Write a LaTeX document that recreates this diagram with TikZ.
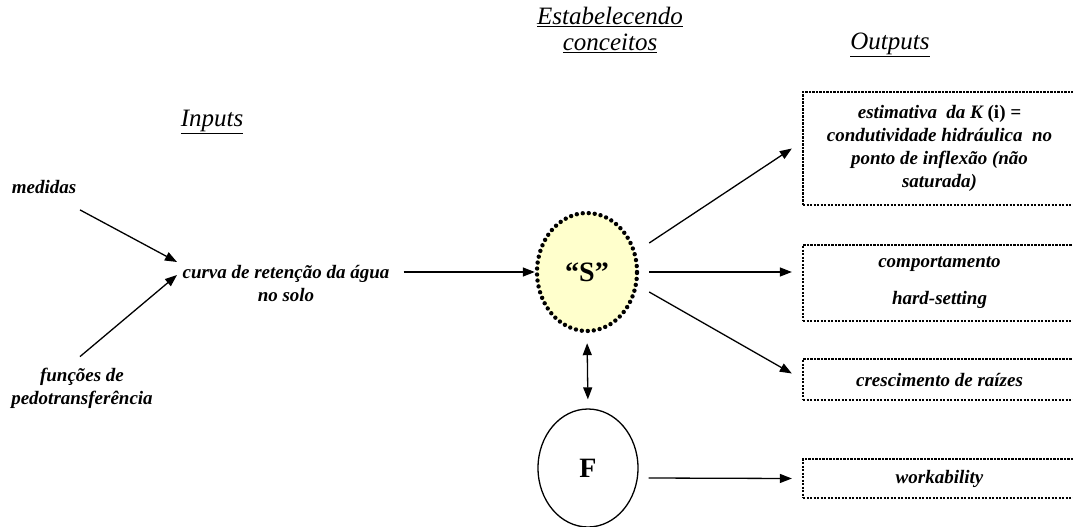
\documentclass[tikz,border=0pt]{standalone}
\usepackage{fontspec}
\setmainfont{Liberation Serif}
\usetikzlibrary{arrows.meta,shapes.geometric}
\definecolor{sfill}{HTML}{FFFFCC}

\begin{document}
\begin{tikzpicture}[x=1pt,y=1pt,
    txt/.style={font=\fontsize{19}{23}\selectfont\bfseries\itshape, align=center, inner sep=0pt},
    ttl/.style={font=\fontsize{25}{26}\selectfont\itshape, align=center, inner sep=0pt},
    outbox/.style={draw, line width=2.3pt, dash pattern=on 2.3pt off 1.2pt, minimum width=273, align=center, font=\fontsize{19}{23}\selectfont\bfseries\itshape},
    bigoval/.style={ellipse, minimum width=100, minimum height=118, inner sep=0pt, font=\fontsize{28}{30}\selectfont\bfseries},
    arr/.style={-{Triangle[length=12pt,width=9pt]}, line width=1.3pt},
    ]
    \useasboundingbox (0,0) rectangle (1073,-527);

    % titles
    \node [ttl] (estab) at (610,-30) {\underline{Estabelecendo}\\\underline{conceitos}};
    \node [ttl] (outputs) at (890,-45) {\underline{Outputs}};
    \node [ttl] (inputs) at (212,-122) {\underline{Inputs}};

    % inputs
    \node [txt] (medidas) at (44,-187) {medidas};
    \node [txt] (funcoes) at (82,-388) {funções de\\pedotransferência};
    \node [txt] (curva) at (286,-283) {curva de retenção da água\\no solo};
    \coordinate (join1) at (177,-262);
    \coordinate (join2) at (177,-275);

    % conceitos
    \node [bigoval, fill=sfill, line width=4.4pt, dash pattern=on 0pt off 6pt, line cap=round, draw] (S) at (587,-272) {“S”};
    \node [bigoval, draw, line width=1.3pt] (F) at (588,-468) {F};

    % outputs
    \node [outbox, minimum height=113] (box1) at (939.5,-148.5) {estimativa\ \ da \textit{K} {\upshape(i)} =\\condutividade hidráulica\ \ no\\ponto de inflexão (não\\saturada)};
    \node [outbox, minimum height=76] (box2) at (939.5,-283) {comportamento\\[14pt]hard-setting};
    \node [outbox, minimum height=41] (box3) at (939.5,-379.5) {crescimento de raízes};
    \node [outbox, minimum height=39] (box4) at (939.5,-478.5) {workability};

    \draw [arr] ([shift={(36,-16)}]medidas.south) -- (join1);
    \draw [arr] ([shift={(-2,11)}]funcoes.north) -- (join2);
    \draw [arr, shorten <=14pt] (curva.east |- S.west) -- (S.west);

    \draw [arr] ([shift={(10,29)}]S.east) -- ([xshift=-10]box1.west);
    \draw [arr] ([xshift=10]S.east) -- ([xshift=-10]box2.west |- S.east);
    \draw [arr] ([shift={(10,-20)}]S.east) -- ([shift={(-10,6)}]box3.west);
    \draw [{Triangle[length=12pt,width=9pt]}-{Triangle[length=12pt,width=9pt]}, line width=1.3pt, shorten <=10pt, shorten >=9pt] (S.south) -- (F.north);
    \draw [arr] ([shift={(10,-10)}]F.east) -- ([xshift=-10]box4.west);

\end{tikzpicture}
\end{document}
